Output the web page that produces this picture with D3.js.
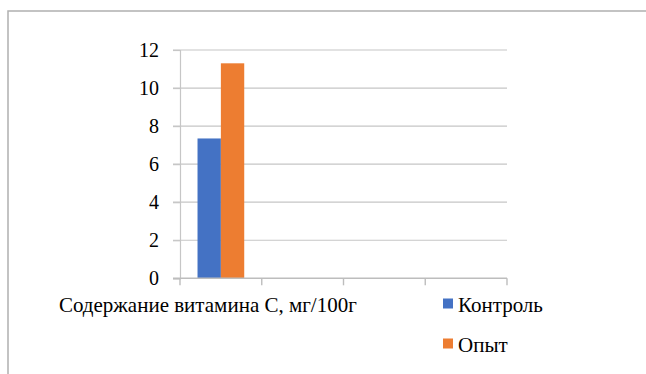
<!DOCTYPE html>
<html>
<head>
<meta charset="utf-8">
<script src="https://cdn.jsdelivr.net/npm/d3@7"></script>
<style>
  html, body { margin: 0; padding: 0; background: #fff; }
  svg { display: block; }
</style>
</head>
<body>
<script>
// Data
const categories = ["Содержание витамина С, мг/100г", "", "", ""];
const seriesNames = ["Контроль", "Опыт"];
const controlValues = [7.35, null, null, null];
const experimentValues = [11.3, null, null, null];
const yTicks = [0, 2, 4, 6, 8, 10, 12];
const seriesColors = ["#4472C4", "#ED7D31"];

const FONT = "'Liberation Serif', 'Times New Roman', serif";
const FS = "21px";
const W = 646, H = 374;
const svg = d3.select("body").append("svg").attr("width", W).attr("height", H)
  .style("font-family", FONT);

// frame
svg.append("rect")
  .attr("x", 8).attr("y", 11).attr("width", 700).attr("height", 400)
  .attr("fill", "none").attr("stroke", "#b0b0b0").attr("stroke-width", 1.5);

const plotL = 180, plotR = 507, plotT = 50, plotB = 278.3;

const idx = categories.map((d, i) => i);
const x = d3.scaleBand().domain(idx).range([plotL, plotR]).paddingInner(0).paddingOuter(0);
const xs = d3.scaleBand().domain(seriesNames).range([0, x.bandwidth()]).paddingInner(0).paddingOuter(0.75);
const y = d3.scaleLinear().domain([0, 12]).range([plotB, plotT]);

// gridlines
svg.append("g").selectAll("line").data(yTicks.filter(t => t > 0)).join("line")
  .attr("x1", plotL - 7).attr("x2", plotR)
  .attr("y1", d => y(d)).attr("y2", d => y(d))
  .attr("stroke", "#c6c6c6").attr("stroke-width", 1.2);

// bars
const seriesData = [controlValues, experimentValues];
seriesNames.forEach((s, si) => {
  svg.append("g").selectAll("rect")
    .data(seriesData[si].map((v, i) => ({ i, v })).filter(d => d.v != null))
    .join("rect")
    .attr("x", d => x(d.i) + xs(s))
    .attr("width", xs.bandwidth())
    .attr("y", d => y(d.v))
    .attr("height", d => y(0) - y(d.v))
    .attr("fill", seriesColors[si]);
});

// y axis
const yAxis = d3.axisLeft(y).tickValues(yTicks).tickSize(7).tickPadding(14).tickFormat(d3.format("d"));
const gy = svg.append("g").attr("transform", `translate(${plotL},0)`).call(yAxis)
  .attr("font-family", null).attr("font-size", null);
gy.select(".domain").attr("stroke", "#c6c6c6").attr("stroke-width", 1.2);
gy.selectAll(".tick line").attr("stroke", "#c6c6c6").attr("stroke-width", 1.2);
gy.selectAll(".tick text").style("font-family", FONT).style("font-size", "20px").attr("fill", "#000");

// x axis (line + boundary ticks)
svg.append("line").attr("x1", plotL - 7).attr("x2", plotR).attr("y1", y(0)).attr("y2", y(0))
  .attr("stroke", "#bdbdbd").attr("stroke-width", 1.4);
const bounds = idx.map(i => x(i)).concat([x(idx[idx.length - 1]) + x.bandwidth()]);
svg.append("g").selectAll("line").data(bounds).join("line")
  .attr("x1", d => d).attr("x2", d => d)
  .attr("y1", y(0)).attr("y2", y(0) + 7)
  .attr("stroke", "#bdbdbd").attr("stroke-width", 1.4);

// category labels
svg.append("g").selectAll("text").data(idx).join("text")
  .attr("x", i => x(i) + x.bandwidth() / 2 - 13)
  .attr("y", 312)
  .attr("text-anchor", "middle")
  .style("font-family", FONT).style("font-size", FS).attr("fill", "#000")
  .text(i => categories[i]);

// legend
const lg = svg.append("g");
seriesNames.forEach((s, si) => {
  lg.append("rect").attr("x", 443).attr("y", 298.5 + si * 40).attr("width", 10).attr("height", 10).attr("fill", seriesColors[si]);
  lg.append("text").attr("x", 458).attr("y", 312 + si * 40)
    .style("font-family", FONT).style("font-size", FS).attr("fill", "#000").text(s);
});
</script>
</body>
</html>
